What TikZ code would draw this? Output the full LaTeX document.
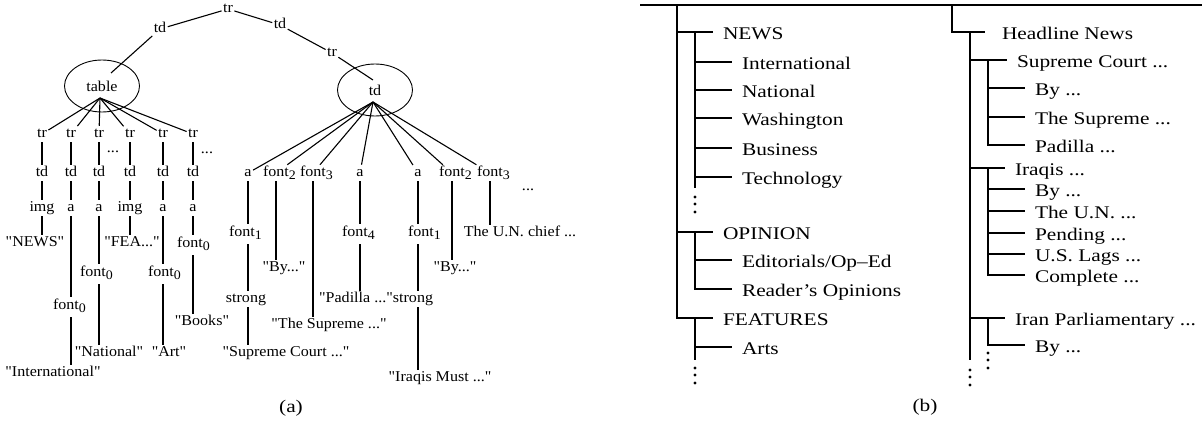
\documentclass[tikz,border=0pt]{standalone}
\usepackage{fontspec}
\setmainfont{Liberation Serif}[FakeStretch=1.2, Ligatures=TeXOff]
\newfontfamily\treefont{Liberation Serif}[FakeStretch=1.07, Ligatures=TeXOff]
\usetikzlibrary{calc,positioning,shapes.geometric}
\newcommand{\fsub}[1]{\rlap{\raisebox{-0.45ex}{\fontsize{13}{13}\selectfont #1}}}
\newcommand{\trail}{...}

\begin{document}
\begin{tikzpicture}[x=1pt,y=-1pt,
    lbl/.style={inner sep=1.5pt, outer sep=0pt, text height=10.5pt, text depth=3pt, font=\treefont\fontsize{15}{17}\selectfont},
    fnt/.style={lbl, text depth=6.5pt},
    oval/.style={ellipse, draw, line width=0.9pt, minimum width=75pt, minimum height=52pt, inner sep=0pt, font=\treefont\fontsize{15}{17}\selectfont},
    link/.style={line width=1.1pt},
    item/.style={anchor=west, inner xsep=10pt, inner ysep=0pt, outer sep=0pt, text height=14pt, text depth=0pt, font=\fontsize{17.8}{20}\selectfont},
    outl/.style={line width=1.6pt},
    panel/.style={inner sep=0pt, font=\fontsize{17.8}{20}\selectfont}]
  \useasboundingbox (0,0) rectangle (1202,423);

  % (a)
  \node[lbl] (tr0) at (228,9) {tr};
  \node[lbl] (tdA) at (160,29) {td};
  \node[lbl] (tdB) at (280,25) {td};
  \node[lbl] (trB) at (332,53) {tr};
  \node[oval] (table) at (102,86) {table};
  \node[oval] (tdE) at (375,90) {td};
  \coordinate (hubT) at ($(table.center)+(-2,12)$);
  \coordinate (hubD) at ($(tdE.center)+(-2,12)$);
  \draw[link] (tr0) -- (tdA);
  \draw[link] (tr0) -- (tdB);
  \draw[link] (tdB) -- (trB);
  \draw[link] (tdA) -- ($(table.center)+(9,-13)$);
  \draw[link] (trB) -- ($(tdE.center)+(-2,-10)$);

  \foreach \i/\x/\c in {1/42/img, 2/71/a, 3/99/a, 4/130/img, 5/163/a, 6/193/a} {
    \node[lbl] (r\i) at (\x,134) {tr};
    \node[lbl] (d\i) at (\x,173) {td};
    \node[lbl] (c\i) at (\x,208) {\c};
    \draw[link] (hubT) -- (r\i);
    \draw[link] (r\i) -- (d\i);
    \draw[link] (d\i) -- (c\i);
  }
  \node[lbl] (gap1) at (113,149) {...};
  \node[lbl] (gap2) at (207,150) {...};

  \node[lbl] (news) at (35,243) {"NEWS"};
  \draw[link] (c1.south) -- (c1 |- news.north);
  \node[fnt] (f2) at (66,307) {font\fsub{0}};
  \node[lbl] (intl) at (53,373) {"International"};
  \draw[link] (c2.south) -- (c2 |- f2.north);
  \draw[link] (c2 |- f2.south) -- (c2 |- intl.north);
  \node[fnt] (f3) at (93,274) {font\fsub{0}};
  \node[lbl] (natl) at (109,353) {"National"};
  \draw[link] (c3.south) -- (c3 |- f3.north);
  \draw[link] (c3 |- f3.south) -- (c3 |- natl.north);
  \node[lbl] (fea) at (132,243) {"FEA..."};
  \draw[link] (c4.south) -- (c4 |- fea.north);
  \node[fnt] (f5) at (161,274) {font\fsub{0}};
  \node[lbl] (art) at (169,353) {"Art"};
  \draw[link] (c5.south) -- (c5 |- f5.north);
  \draw[link] (c5 |- f5.south) -- (c5 |- art.north);
  \node[fnt] (f6) at (190,245) {font\fsub{0}};
  \node[lbl] (books) at (202,322) {"Books"};
  \draw[link] (c6.south) -- (c6 |- f6.north);
  \draw[link] (c6 |- f6.south) -- (c6 |- books.north);

  \foreach \i/\x/\t in {1/248/a, 2/276/font\fsub{2}, 3/313/font\fsub{3}, 4/360/a, 5/418/a, 6/452/font\fsub{2}, 7/490/font\fsub{3}} {
    \node[lbl] (k\i) at (\x,173) {\t};
    \draw[link] (hubD) -- (k\i);
  }
  \node[lbl] (gap3) at (528,187) {...};

  \node[fnt] (g1) at (242,234) {font\fsub{1}};
  \node[lbl] (s1) at (246,299) {strong};
  \node[lbl] (sc) at (286,353) {"Supreme Court ..."};
  \draw[link] (k1.south) -- (k1 |- g1.north);
  \draw[link] (k1 |- g1.south) -- (k1 |- s1.north);
  \draw[link] (k1 |- s1.south) -- (k1 |- sc.north);
  \node[lbl] (by1) at (284,268) {"By..."};
  \draw[link] (k2.south) -- (k2 |- by1.north);
  \node[lbl] (ts) at (329,325) {"The Supreme ..."};
  \draw[link] (k3.south) -- (k3 |- ts.north);
  \node[fnt] (g4) at (355,234) {font\fsub{4}};
  \node[lbl] (pad) at (356,299) {"Padilla ..."};
  \draw[link] (k4.south) -- (k4 |- g4.north);
  \draw[link] (k4 |- g4.south) -- (k4 |- pad.north);
  \node[fnt] (g5) at (421,234) {font\fsub{1}};
  \node[lbl] (s5) at (413,299) {strong};
  \node[lbl] (im) at (440,378) {"Iraqis Must ..."};
  \draw[link] (k5.south) -- (k5 |- g5.north);
  \draw[link] (k5 |- g5.south) -- (k5 |- s5.north);
  \draw[link] (k5 |- s5.south) -- (k5 |- im.north);
  \node[lbl] (by2) at (455,268) {"By..."};
  \draw[link] (k6.south) -- (k6 |- by2.north);
  \node[lbl] (un) at (520,233) {The U.N. chief ...};
  \draw[link] (k7.south) -- (k7 |- un.north);

  \node[panel] (capA) at (291,408) {(a)};

  % (b)
  \coordinate (topL) at (640,5);
  \coordinate (topR) at (1202,5);
  \draw[outl] (topL) -- (topR);

  \coordinate (v0) at (677,5);
  \node[item] (NEWS) at (713,32) {NEWS};
  \node[item] (OPIN) at (713,232) {OPINION};
  \node[item] (FEAT) at (713,318) {FEATURES};
  \draw[outl] (v0) |- (NEWS.west);
  \draw[outl] (v0) |- (OPIN.west);
  \draw[outl] (v0) |- (FEAT.west);

  \coordinate (newsV) at (695,32);
  \coordinate (newsE) at (695,188);
  \foreach \n/\y/\t in {1/62/International, 2/90/National, 3/118/Washington, 4/148/Business, 5/177/Technology} {
    \node[item] (nw\n) at (732,\y) {\t};
    \draw[outl] (newsV) |- (nw\n.west);
  }
  \draw[outl] (newsV) -- (newsE);
  \foreach \d in {9,16,24} \fill ($(newsE)+(0,\d)$) circle (1.7);

  \coordinate (opinV) at (695,232);
  \foreach \n/\y/\t in {1/260/{Editorials/Op–Ed}, 2/289/{Reader’s Opinions}} {
    \node[item] (op\n) at (732,\y) {\t};
    \draw[outl] (opinV) |- (op\n.west);
  }

  \coordinate (featV) at (695,318);
  \coordinate (featE) at (695,360);
  \node[item] (arts) at (732,347) {Arts};
  \draw[outl] (featV) |- (arts.west);
  \draw[outl] (featV) -- (featE);
  \foreach \d in {8,15,23} \fill ($(featE)+(0,\d)$) circle (1.7);

  \coordinate (v1) at (952,5);
  \node[item, inner xsep=17pt] (HEAD) at (985,32) {Headline News};
  \draw[outl] (v1) |- (HEAD.west);

  \coordinate (headV) at (970,32);
  \coordinate (headE) at (970,360);
  \node[item] (SC) at (1007,60) {Supreme Court ...};
  \node[item] (IQ) at (1005,168) {Iraqis ...};
  \node[item] (IR) at (1005,318) {Iran Parliamentary ...};
  \draw[outl] (headV) |- (SC.west);
  \draw[outl] (headV) |- (IQ.west);
  \draw[outl] (headV) |- (IR.west);
  \draw[outl] (headV) -- (headE);
  \foreach \d in {10,17,25} \fill ($(headE)+(0,\d)$) circle (1.7);

  \coordinate (scV) at (988,60);
  \foreach \n/\y/\t in {1/88/{By \trail}, 2/117/{The Supreme \trail}, 3/145/{Padilla \trail}} {
    \node[item] (sc\n) at (1025,\y) {\t};
    \draw[outl] (scV) |- (sc\n.west);
  }
  \coordinate (iqV) at (988,168);
  \foreach \n/\y/\t in {1/189/{By \trail}, 2/211/{The U.N. \trail}, 3/233/{Pending \trail}, 4/254/{U.S. Lags \trail}, 5/275/{Complete \trail}} {
    \node[item] (iq\n) at (1025,\y) {\t};
    \draw[outl] (iqV) |- (iq\n.west);
  }
  \coordinate (irV) at (988,318);
  \coordinate (irE) at (988,345);
  \node[item] (ir1) at (1025,345) {By ...};
  \draw[outl] (irV) |- (ir1.west);
  \foreach \d in {8,15,23} \fill ($(irE)+(0,\d)$) circle (1.7);

  \node[panel] (capB) at (925,407) {(b)};
\end{tikzpicture}
\end{document}
